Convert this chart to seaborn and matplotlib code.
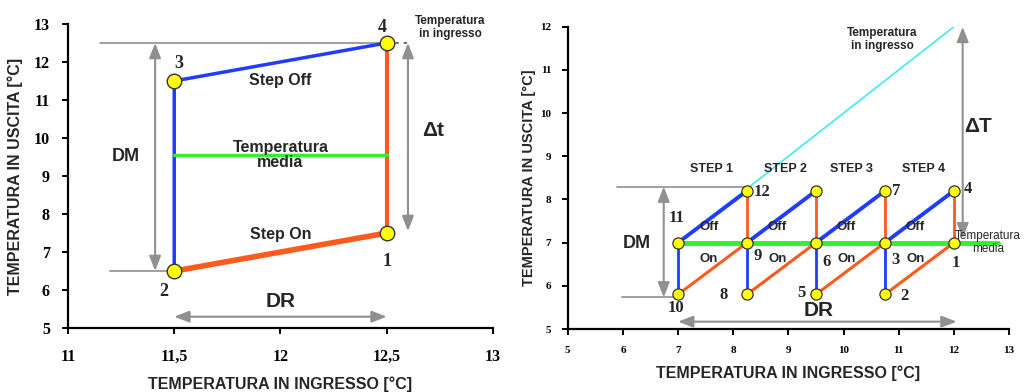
import numpy as np
import pandas as pd
import matplotlib
matplotlib.use("Agg")
import matplotlib.pyplot as plt
import seaborn as sns

# pannello sinistro: un solo step
sx_nomi = ['1', '2', '3', '4']
sx_x = [12.5, 11.5, 11.5, 12.5]
sx_y = [7.5, 6.5, 11.5, 12.5]
sx_on_x = [11.5, 12.5, 12.5]      # 2 -> 1 -> 4
sx_on_y = [6.5, 7.5, 12.5]
sx_off_x = [11.5, 11.5, 12.5]     # 2 -> 3 -> 4
sx_off_y = [6.5, 11.5, 12.5]
sx_media_x = [11.5, 12.5]
sx_media_y = [9.55, 9.55]
sx_xticks = [11, 11.5, 12, 12.5, 13]
sx_xlabels = ['11', '11,5', '12', '12,5', '13']
sx_yticks = [5, 6, 7, 8, 9, 10, 11, 12, 13]

# pannello destro: quattro step
dx_step_x = [7, 8.25, 9.5, 10.75, 12]
dx_basso, dx_medio, dx_alto = 5.8, 7.0, 8.2
dx_nomi = ['10', '11', '8', '9', '12', '5', '6', '', '2', '3', '7', '1', '4']
dx_px = [7, 7, 8.25, 8.25, 8.25, 9.5, 9.5, 9.5, 10.75, 10.75, 10.75, 12, 12]
dx_py = [5.8, 7, 5.8, 7, 8.2, 5.8, 7, 8.2, 5.8, 7, 8.2, 7, 8.2]
dx_ingresso_x = [7, 12]
dx_ingresso_y = [7, 12]
dx_media_x = [7, 12.8]
dx_media_y = [7, 7]
dx_step_nomi = ['STEP 1', 'STEP 2', 'STEP 3', 'STEP 4']
dx_step_lx = [7.6, 8.95, 10.15, 11.45]

sns.set_style("ticks")
plt.rcParams['font.family'] = ['Liberation Sans', 'DejaVu Sans']

ARANCIO = '#ff5a1e'
BLU = '#1f3cff'
VERDE = '#33ee33'
CIANO = '#40e8f8'
GRIGIO = '#909090'
GIALLO = '#ffff00'
SERIF = 'Liberation Serif'

fig = plt.figure(figsize=(10.27, 3.92), dpi=100)
ax1 = fig.add_axes([0.0662, 0.163, 0.4138, 0.776])
ax2 = fig.add_axes([0.5528, 0.1607, 0.4297, 0.771])


def freccia(ax, x0, y0, x1, y1):
    ax.annotate('', xy=(x1, y1), xytext=(x0, y0),
                arrowprops=dict(arrowstyle='<|-|>,head_length=0.9,head_width=0.35',
                                color=GRIGIO, lw=1.5, shrinkA=0, shrinkB=0))


def stile(ax, size, pad):
    sns.despine(ax=ax)
    for s in ['left', 'bottom']:
        ax.spines[s].set_linewidth(1.6)
        ax.spines[s].set_color('black')
    ax.tick_params(direction='out', length=4, width=1.4, colors='black', pad=pad)
    for t in ax.get_xticklabels() + ax.get_yticklabels():
        t.set_fontfamily(SERIF)
        t.set_fontweight('bold')
        t.set_fontsize(size)


# ---- sinistra ----
ax1.plot([11.15, 12.5], [12.5, 12.5], color=GRIGIO, lw=1.2)
ax1.plot([12.5, 12.62], [12.5, 12.5], color='#555555', lw=1.2, ls=(0, (2, 3)))
ax1.plot([11.2, 11.5], [6.5, 6.5], color=GRIGIO, lw=1.2)
freccia(ax1, 11.41, 12.5, 11.41, 6.5)
freccia(ax1, 12.6, 12.5, 12.6, 7.55)
freccia(ax1, 11.5, 5.3, 12.5, 5.3)

ax1.plot(sx_on_x[:2], sx_on_y[:2], color=ARANCIO, lw=4, solid_capstyle='butt')
ax1.plot(sx_on_x[1:], sx_on_y[1:], color=ARANCIO, lw=3)
ax1.plot(sx_off_x, sx_off_y, color=BLU, lw=2.5)
sns.lineplot(x=sx_media_x, y=sx_media_y, ax=ax1, color=VERDE, lw=2.5)
sns.scatterplot(x=sx_x, y=sx_y, ax=ax1, s=110, color=GIALLO, edgecolor='#333333',
                linewidth=1, zorder=5)

off = {'1': (0, -0.75), '2': (-0.05, -0.55), '3': (0.02, 0.45), '4': (-0.02, 0.4)}
for n, x, y in zip(sx_nomi, sx_x, sx_y):
    dx, dy = off[n]
    ax1.text(x + dx, y + dy, n, ha='center', va='center', fontfamily=SERIF,
             fontweight='bold', fontsize=13)

ax1.text(12.0, 11.5, 'Step Off', ha='center', va='center', fontsize=11.5, fontweight='bold')
ax1.text(12.0, 7.45, 'Step On', ha='center', va='center', fontsize=11.5, fontweight='bold')
ax1.text(12.0, 9.55, 'Temperatura\nmedia', ha='center', va='center', fontsize=11.5,
         fontweight='bold', linespacing=1.0)
ax1.text(11.27, 9.5, 'DM', ha='center', va='center', fontsize=13, fontweight='bold')
ax1.text(12.72, 10.2, '\u0394t', ha='center', va='center', fontsize=15, fontweight='bold')
ax1.text(12.0, 5.7, 'DR', ha='center', va='center', fontsize=15, fontweight='bold')
ax1.text(12.8, 12.9, 'Temperatura\nin ingresso', ha='center', va='center', fontsize=8.5,
         fontweight='bold', linespacing=1.15, clip_on=False)

ax1.set_xlim(11, 13)
ax1.set_ylim(5, 13)
ax1.set_xticks(sx_xticks)
ax1.set_xticklabels(sx_xlabels)
ax1.set_yticks(sx_yticks)
stile(ax1, 11.5, 11)
ax1.tick_params(axis='y', pad=9)
ax1.set_xlabel('TEMPERATURA IN INGRESSO [°C]', fontsize=11.5, fontweight='bold', labelpad=8)
ax1.set_ylabel('TEMPERATURA IN USCITA [°C]', fontsize=11.5, fontweight='bold', labelpad=8)

# ---- destra ----
ax2.plot([5.9, 8.25], [8.3, 8.3], color=GRIGIO, lw=1.2)
ax2.plot([5.98, 7.0], [5.73, 5.73], color=GRIGIO, lw=1.2)
freccia(ax2, 6.74, 8.3, 6.74, 5.73)
freccia(ax2, 12.16, 12.0, 12.16, 7.1)
freccia(ax2, 7.0, 5.17, 12.05, 5.17)

sns.lineplot(x=dx_ingresso_x, y=dx_ingresso_y, ax=ax2, color=CIANO, lw=1.2)
sns.lineplot(x=dx_media_x, y=dx_media_y, ax=ax2, color=VERDE, lw=3.5)
for a, b in zip(dx_step_x[:-1], dx_step_x[1:]):
    ax2.plot([a, b], [dx_medio, dx_alto], color=BLU, lw=2.8)
    ax2.plot([a, b], [dx_basso, dx_medio], color=ARANCIO, lw=2.2)
    ax2.plot([a, a], [dx_basso, dx_medio], color=BLU, lw=2)
    ax2.plot([b, b], [dx_medio, dx_alto], color=ARANCIO, lw=2)
sns.scatterplot(x=dx_px, y=dx_py, ax=ax2, s=65, color=GIALLO, edgecolor='#333333',
                linewidth=0.9, zorder=5)

pos = {'1': (12.03, 6.53), '2': (11.11, 5.76), '3': (10.94, 6.6), '4': (12.25, 8.25),
       '5': (9.24, 5.84), '6': (9.69, 6.56), '7': (10.95, 8.2), '8': (7.83, 5.79),
       '9': (8.45, 6.69), '10': (6.97, 5.48), '11': (6.97, 7.56), '12': (8.52, 8.18)}
for n in dx_nomi:
    if n:
        ax2.text(*pos[n], n, ha='center', va='center', fontfamily=SERIF,
                 fontweight='bold', fontsize=12)
for a, b in zip(dx_step_x[:-1], dx_step_x[1:]):
    m = (a + b) / 2
    ax2.text(m - 0.07, 7.37, 'Off', ha='center', va='center', fontsize=9.5, fontweight='bold')
    ax2.text(m - 0.07, 6.63, 'On', ha='center', va='center', fontsize=9.5, fontweight='bold')
for n, x in zip(dx_step_nomi, dx_step_lx):
    ax2.text(x, 8.7, n, ha='center', va='center', fontsize=9, fontweight='bold')

ax2.text(6.25, 6.98, 'DM', ha='center', va='center', fontsize=13, fontweight='bold')
ax2.text(9.54, 5.42, 'DR', ha='center', va='center', fontsize=15, fontweight='bold')
ax2.text(12.43, 9.68, '\u0394T', ha='center', va='center', fontsize=15, fontweight='bold')
ax2.text(10.7, 11.7, 'Temperatura\nin ingresso', ha='center', va='center', fontsize=8.5,
         fontweight='bold', linespacing=1.1)
ax2.text(12.62, 7.0, 'Temperatura\nmedia', ha='center', va='center', fontsize=8.5,
         linespacing=1.1, clip_on=False)

ax2.set_xlim(5, 13)
ax2.set_ylim(5, 12)
ax2.set_xticks(range(5, 14))
ax2.set_yticks(range(5, 13))
stile(ax2, 8, 8)
ax2.set_xlabel('TEMPERATURA IN INGRESSO [°C]', fontsize=11.5, fontweight='bold', labelpad=8)
ax2.set_ylabel('TEMPERATURA IN USCITA [°C]', fontsize=10.5, fontweight='bold', labelpad=3)

fig.savefig('out.png', dpi=100)
